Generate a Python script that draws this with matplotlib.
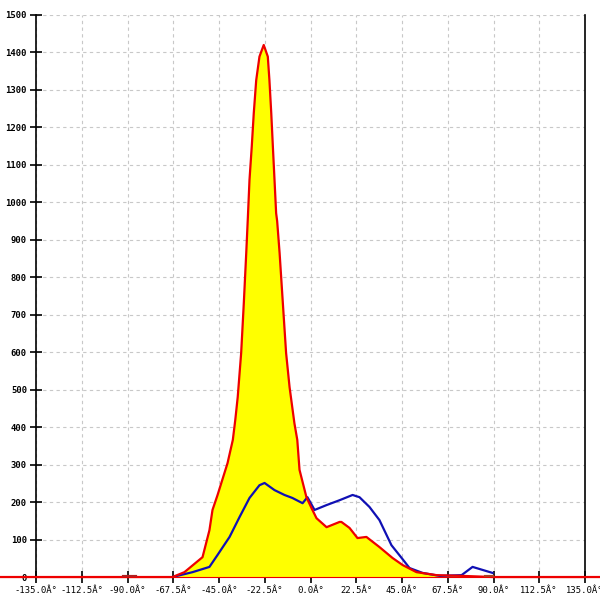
import numpy as np
import matplotlib
matplotlib.use('Agg')
import matplotlib.pyplot as plt

# red curve (filled yellow underneath)
red_x = [-155, -67.9, -62.0, -53.1, -49.7, -48.2, -45.7, -40.8, -38.2, -37.0, -35.8, -34.1,
         -32.8, -31.6, -30.8, -30.0, -28.9, -27.9, -26.7, -25.1, -23.0, -21.0, -20.2,
         -19.3, -18.5, -17.7, -16.9, -16.4, -15.2, -13.6, -12.0, -10.3, -7.9, -6.5, -5.4,
         -2.0, 0.5, 2.95, 7.9, 14.3, 15.2, 19.2, 23.1, 27.5, 33.9, 40.3, 45.3, 52.1,
         62.0, 74.8, 89.5, 145]
red_y = [0, 0, 13, 53, 125, 179, 219, 304, 366, 419, 480, 598,
         731, 865, 960, 1060, 1148, 1238, 1326, 1389, 1420, 1389, 1326,
         1238, 1148, 1060, 971, 950, 865, 731, 598, 507, 410, 366, 286,
         213, 184, 157, 133, 147, 147, 131, 104, 107, 80, 51, 32, 13,
         5, 3, 0, 0]

# blue curve
blue_x = [-67.9, -58.0, -49.7, -45.7, -39.8, -34.9, -30.0, -25.1, -22.6, -17.7, -12.8,
          -8.9, -3.9, -1.5, 2.0, 7.9, 14.3, 20.7, 24.1, 29.0, 33.9, 39.8, 44.8, 48.7,
          55.1, 63.5, 74.3, 79.7, 84.6, 89.5]
blue_y = [0, 13, 27, 59, 107, 160, 211, 245, 251, 232, 219,
          211, 197, 213, 179, 192, 205, 219, 213, 187, 152, 85, 51, 24,
          11, 3, 5, 27, 19, 11]

x_ticks = [-135, -112.5, -90, -67.5, -45, -22.5, 0, 22.5, 45, 67.5, 90, 112.5, 135]
x_labels = ['%.1fÂ°' % t for t in x_ticks]
y_ticks = list(range(0, 1600, 100))

fig = plt.figure(figsize=(6, 6), dpi=100)
ax = fig.add_axes([0.06, 0.0383, 0.915, 0.9367])

ax.fill_between(red_x, red_y, 0, color='#ffff00', lw=0)
ax.plot(blue_x, blue_y, color='#1010b4', lw=1.6, zorder=3)
ax.plot(red_x, red_y, color='#ee0000', lw=1.6, zorder=4, clip_on=False)
# small dark bits on the baseline
ax.plot([-91.5, -86.5], [0, 0], color='#b02020', lw=3, zorder=5)
ax.plot([86.5, 89.5], [0, 0], color='#b04020', lw=3, zorder=5)

ax.set_xlim(-135, 135)
ax.set_ylim(0, 1500)
ax.set_xticks(x_ticks)
ax.set_xticklabels(x_labels, fontsize=6.4, family='DejaVu Sans Mono')
ax.set_yticks(y_ticks)
ax.set_yticklabels([str(v) for v in y_ticks], fontsize=6.4, family='DejaVu Sans Mono',
                   fontweight='bold')
ax.tick_params(direction='inout', length=9, width=1.2, pad=2)

ax.grid(True, color='#c8c8c8', ls=(0, (3, 3)), lw=0.8)
ax.set_axisbelow(True)
ax.spines['top'].set_visible(False)
ax.spines['left'].set_linewidth(1.2)
ax.spines['right'].set_linewidth(1.2)
ax.spines['bottom'].set_color('#ee0000')

fig.savefig('out.png', dpi=100)
